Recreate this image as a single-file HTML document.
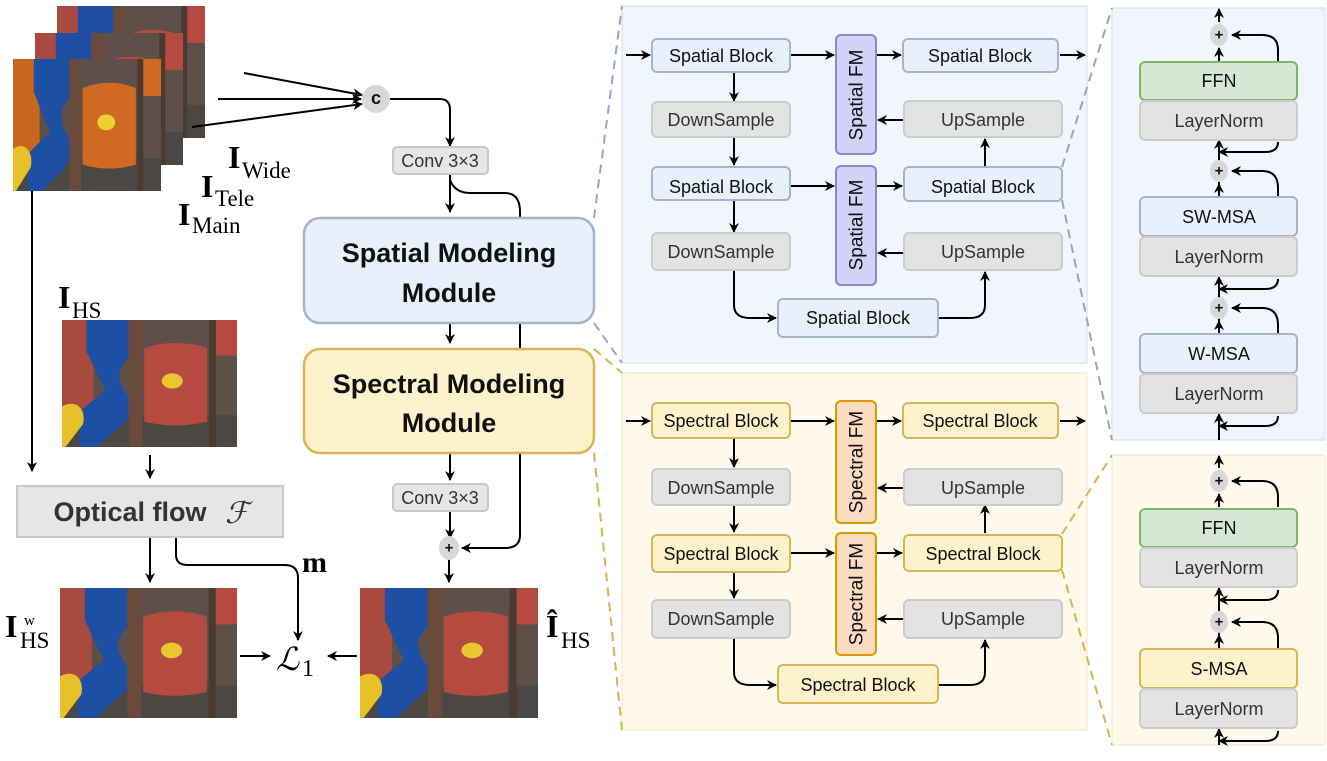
<!DOCTYPE html>
<html><head><meta charset="utf-8"><style>
html,body{margin:0;padding:0;background:#fff}
svg{display:block}
.b{font-family:"Liberation Sans",sans-serif;text-anchor:middle;dominant-baseline:central;fill:#111}
.g{fill:#333}
.m{font-family:"Liberation Serif",serif;fill:#000}
.ln{stroke:#000;stroke-width:2;fill:none}
</style></head><body>
<svg width="1327" height="761" viewBox="0 0 1327 761" xmlns="http://www.w3.org/2000/svg" font-size="18">
<defs>
<marker id="a" viewBox="0 0 10 10" refX="9" refY="5" markerWidth="5" markerHeight="5" orient="auto"><path d="M0,0L10,5L0,10L3,5z" fill="#000"/></marker>
<symbol id="pr" viewBox="0 0 100 100" preserveAspectRatio="none">
<rect width="100" height="100" fill="#5e5048"/>
<rect x="0" y="75" width="100" height="25" fill="#4a4744"/>
<rect x="0" y="0" width="18" height="75" fill="#a84a40"/>
<path d="M14,0H38V30C30,40 32,50 38,60V78L20,100H10V72L25,55C20,45 18,35 14,25z" fill="#1d4fa5"/>
<path d="M0,68C8,62 14,70 12,82L2,100H0z" fill="#e8c02a"/>
<rect x="38" y="0" width="8" height="100" fill="#6a4a3a"/>
<path d="M47,22Q65,14 83,22V80Q65,86 47,80z" fill="#b54a40"/>
<circle cx="63" cy="48" r="6" fill="#e8c830"/>
<rect x="86" y="0" width="14" height="28" fill="#b54a40"/>
<rect x="84" y="0" width="4" height="100" fill="#4a3a30"/>
</symbol>
<symbol id="po" viewBox="0 0 100 100" preserveAspectRatio="none">
<rect width="100" height="100" fill="#5e5048"/>
<rect x="0" y="75" width="100" height="25" fill="#4a4744"/>
<rect x="0" y="0" width="18" height="75" fill="#c8651e"/>
<path d="M14,0H38V30C30,40 32,50 38,60V78L20,100H10V72L25,55C20,45 18,35 14,25z" fill="#1d4fa5"/>
<path d="M0,68C8,62 14,70 12,82L2,100H0z" fill="#e8c02a"/>
<rect x="38" y="0" width="8" height="100" fill="#6a4a3a"/>
<path d="M47,22Q65,14 83,22V80Q65,86 47,80z" fill="#d06a22"/>
<circle cx="63" cy="48" r="6" fill="#f0d030"/>
<rect x="86" y="0" width="14" height="28" fill="#d06a22"/>
<rect x="84" y="0" width="4" height="100" fill="#4a3a30"/>
</symbol>
</defs>

<rect x="622" y="6" width="465" height="357" fill="#f1f5fd" stroke="#d5dbe6"/>
<rect x="622" y="373" width="465" height="357" fill="#fef9ea" stroke="#f3e6c0"/>
<rect x="1112" y="8" width="213" height="432" fill="#f1f5fd" stroke="#d5dbe6"/>
<rect x="1112" y="455" width="213" height="290" fill="#fef9ea" stroke="#f3e6c0"/>

<g stroke-width="2" stroke-dasharray="9,6" fill="none">
<path d="M594,218L622,6M594,323L622,363M1062,167L1112,8M1062,200L1112,440" stroke="#98a6b8"/>
<path d="M594,349L622,373M594,453L622,730M1062,534L1112,455M1062,570L1112,745" stroke="#d8b24e"/>
</g>

<use href="#pr" x="57" y="6" width="148" height="132"/>
<use href="#pr" x="35" y="33" width="148" height="132"/>
<use href="#po" x="13" y="59" width="148" height="132"/>
<use href="#pr" x="62" y="320" width="175" height="127"/>
<use href="#pr" x="60" y="588" width="177" height="130"/>
<use href="#pr" x="360" y="588" width="178" height="130"/>

<text class="m" x="228" y="168" style="font-size:32px;font-weight:bold">I</text><text class="m" x="242" y="178" style="font-size:23px">Wide</text>
<text class="m" x="201" y="197" style="font-size:32px;font-weight:bold">I</text><text class="m" x="215" y="206" style="font-size:23px">Tele</text>
<text class="m" x="178" y="225" style="font-size:32px;font-weight:bold">I</text><text class="m" x="192" y="233" style="font-size:23px">Main</text>
<text class="m" x="58" y="308" style="font-size:32px;font-weight:bold">I</text><text class="m" x="72" y="318" style="font-size:23px">HS</text>
<text class="m" x="5" y="637" style="font-size:32px;font-weight:bold">I</text><text class="m" x="20" y="648" style="font-size:23px">HS</text><text class="m" x="24" y="625" style="font-size:15px">w</text>
<text class="m" x="546" y="637" style="font-size:32px;font-weight:bold">Î</text><text class="m" x="561" y="648" style="font-size:23px">HS</text>
<text class="m" x="302" y="572" style="font-size:30px;font-weight:bold">m</text>
<text class="m" x="276" y="670" style="font-size:32px;font-style:italic">ℒ</text><text class="m" x="302" y="676" style="font-size:24px">1</text>

<g class="ln" marker-end="url(#a)">
<path d="M244,73L362,95"/><path d="M218,99L361,99"/><path d="M192,127L362,104"/>
<path d="M390,99H440Q450,99 450,110V146"/>
<path d="M450,174V212"/>
<path d="M32,191V471"/>
<path d="M150,455V478"/>
<path d="M450,323V343"/>
<path d="M450,453V480"/>
<path d="M450,511V538"/>
<path d="M520,453V535Q520,548 505,548H462"/>
<path d="M449,558V582"/>
<path d="M150,537V582"/>
<path d="M176,537V555Q176,565 188,565H285Q298,565 298,578V640"/>
<path d="M240,656H270"/>
<path d="M357,656H328"/>
</g>
<path class="ln" d="M450,180Q455,193 470,193H505Q520,193 520,212V218M520,323V349"/>

<circle cx="376" cy="99" r="14" fill="#d8d8d8"/>
<text x="376" y="98" class="b" style="font-weight:bold;font-size:18px">c</text>
<rect x="393" y="147" width="95" height="27" rx="4" fill="#e6e6e6" stroke="#c8c8c8" stroke-width="2"/>
<text x="440" y="161" class="b g" style="font-size:18px">Conv 3×3</text>
<rect x="393" y="484" width="95" height="27" rx="4" fill="#e6e6e6" stroke="#c8c8c8" stroke-width="2"/>
<text x="440" y="498" class="b g" style="font-size:18px">Conv 3×3</text>
<ellipse cx="449" cy="548" rx="10" ry="12" fill="#d8d8d8"/><text x="449" y="548" class="b" style="font-weight:bold;font-size:15px">+</text>

<rect x="304" y="218" width="290" height="105" rx="16" fill="#e8f0fb" stroke="#a5b4c8" stroke-width="2.5"/>
<text x="449" y="253" class="b" style="font-size:27px;font-weight:bold">Spatial Modeling</text>
<text x="449" y="293" class="b" style="font-size:27px;font-weight:bold">Module</text>
<rect x="304" y="349" width="290" height="104" rx="16" fill="#fdf2cc" stroke="#d6b656" stroke-width="2.5"/>
<text x="449" y="384" class="b" style="font-size:27px;font-weight:bold">Spectral Modeling</text>
<text x="449" y="423" class="b" style="font-size:27px;font-weight:bold">Module</text>

<rect x="17" y="486" width="266" height="51" fill="#e6e6e6" stroke="#c8c8c8" stroke-width="2"/>
<text x="130" y="512" class="b g" style="font-size:27px;font-weight:bold">Optical flow</text>
<text x="225" y="523" class="m" style="font-size:30px;font-style:italic;fill:#333">ℱ</text>

<g class="ln" marker-end="url(#a)">
<path d="M626,55H650"/><path d="M790,55H834"/><path d="M876,55H901"/><path d="M1060,55H1085"/>
<path d="M734,72V101"/><path d="M734,137V165"/>
<path d="M904,120H878"/><path d="M985,167V139"/>
<path d="M790,186H834"/><path d="M876,186H902"/>
<path d="M734,200V232"/><path d="M904,253H878"/>
<path d="M734,270V305Q734,318 750,318H776"/>
<path d="M938,318H970Q985,318 985,305V272"/>
</g>
<g stroke-width="2">
<rect x="652" y="39" width="138" height="33" rx="5" fill="#e8f0fb" stroke="#a5b4c8"/>
<rect x="903" y="39" width="155" height="33" rx="5" fill="#e8f0fb" stroke="#a5b4c8"/>
<rect x="652" y="102" width="138" height="35" rx="5" fill="#e3e3e3" stroke="#cccccc"/>
<rect x="904" y="101" width="158" height="36" rx="5" fill="#e3e3e3" stroke="#cccccc"/>
<rect x="652" y="167" width="138" height="33" rx="5" fill="#e8f0fb" stroke="#a5b4c8"/>
<rect x="904" y="167" width="158" height="34" rx="5" fill="#e8f0fb" stroke="#a5b4c8"/>
<rect x="652" y="233" width="138" height="37" rx="5" fill="#e3e3e3" stroke="#cccccc"/>
<rect x="904" y="233" width="158" height="37" rx="5" fill="#e3e3e3" stroke="#cccccc"/>
<rect x="778" y="299" width="160" height="38" rx="5" fill="#e8f0fb" stroke="#a5b4c8"/>
<rect x="836" y="35" width="40" height="119" rx="5" fill="#d2d1f8" stroke="#8a88c8"/>
<rect x="836" y="166" width="40" height="119" rx="5" fill="#d2d1f8" stroke="#8a88c8"/>
</g>
<text x="721" y="56" class="b">Spatial Block</text>
<text x="980" y="56" class="b">Spatial Block</text>
<text x="721" y="120" class="b g">DownSample</text>
<text x="983" y="120" class="b g">UpSample</text>
<text x="721" y="187" class="b">Spatial Block</text>
<text x="983" y="187" class="b">Spatial Block</text>
<text x="721" y="252" class="b g">DownSample</text>
<text x="983" y="252" class="b g">UpSample</text>
<text x="858" y="318" class="b">Spatial Block</text>
<text transform="translate(857,95) rotate(-90)" class="b" style="font-size:19px">Spatial FM</text>
<text transform="translate(857,225) rotate(-90)" class="b" style="font-size:19px">Spatial FM</text>

<g class="ln" marker-end="url(#a)">
<path d="M626,421H650"/><path d="M790,421H834"/><path d="M876,421H901"/><path d="M1060,421H1085"/>
<path d="M734,438V467"/><path d="M734,505V532"/>
<path d="M904,488H878"/><path d="M985,533V505"/>
<path d="M790,553H834"/><path d="M876,553H902"/>
<path d="M734,572V598"/><path d="M904,619H878"/>
<path d="M734,638V672Q734,685 750,685H776"/>
<path d="M938,685H970Q985,685 985,672V640"/>
</g>
<g stroke-width="2">
<rect x="652" y="403" width="138" height="35" rx="5" fill="#fdf2cc" stroke="#d6b656"/>
<rect x="903" y="403" width="155" height="35" rx="5" fill="#fdf2cc" stroke="#d6b656"/>
<rect x="652" y="469" width="138" height="36" rx="5" fill="#e3e3e3" stroke="#cccccc"/>
<rect x="904" y="469" width="158" height="36" rx="5" fill="#e3e3e3" stroke="#cccccc"/>
<rect x="652" y="535" width="138" height="37" rx="5" fill="#fdf2cc" stroke="#d6b656"/>
<rect x="904" y="535" width="158" height="36" rx="5" fill="#fdf2cc" stroke="#d6b656"/>
<rect x="652" y="600" width="138" height="38" rx="5" fill="#e3e3e3" stroke="#cccccc"/>
<rect x="904" y="600" width="158" height="38" rx="5" fill="#e3e3e3" stroke="#cccccc"/>
<rect x="778" y="665" width="160" height="38" rx="5" fill="#fdf2cc" stroke="#d6b656"/>
<rect x="836" y="401" width="40" height="122" rx="5" fill="#fbdcc0" stroke="#d79b00"/>
<rect x="836" y="533" width="40" height="122" rx="5" fill="#fbdcc0" stroke="#d79b00"/>
</g>
<text x="721" y="421" class="b">Spectral Block</text>
<text x="980" y="421" class="b">Spectral Block</text>
<text x="721" y="488" class="b g">DownSample</text>
<text x="983" y="488" class="b g">UpSample</text>
<text x="721" y="554" class="b">Spectral Block</text>
<text x="983" y="554" class="b">Spectral Block</text>
<text x="721" y="619" class="b g">DownSample</text>
<text x="983" y="619" class="b g">UpSample</text>
<text x="858" y="685" class="b">Spectral Block</text>
<text transform="translate(857,462) rotate(-90)" class="b" style="font-size:19px">Spectral FM</text>
<text transform="translate(857,594) rotate(-90)" class="b" style="font-size:19px">Spectral FM</text>

<g class="ln" marker-end="url(#a)">
<path d="M1219,22V9"/><path d="M1219,61V48"/><path d="M1278,61V50Q1278,35 1262,35H1232"/>
<path d="M1219,184V140"/><path d="M1278,142Q1278,152 1265,152H1219"/>
<path d="M1219,196V184"/><path d="M1278,196V188Q1278,171 1262,171H1232"/>
<path d="M1219,321V277"/><path d="M1278,279Q1278,289 1265,289H1219"/>
<path d="M1219,333V321"/><path d="M1278,333V325Q1278,308 1262,308H1232"/>
<path d="M1219,440V414"/><path d="M1278,416Q1278,426 1265,426H1219"/>
<path d="M1219,468V456"/><path d="M1219,507V494"/><path d="M1278,507V497Q1278,481 1262,481H1232"/>
<path d="M1219,635V588"/><path d="M1278,590Q1278,600 1265,600H1219"/>
<path d="M1219,648V635"/><path d="M1278,648V638Q1278,622 1262,622H1232"/>
<path d="M1219,745V729"/><path d="M1278,731Q1278,741 1265,741H1219"/>
</g>
<g stroke-width="2">
<rect x="1140" y="62" width="157" height="38" rx="5" fill="#d5e8d4" stroke="#82b366"/>
<rect x="1140" y="101" width="157" height="39" rx="5" fill="#e3e3e3" stroke="#cccccc"/>
<rect x="1140" y="197" width="157" height="39" rx="5" fill="#e8f0fb" stroke="#a5b4c8"/>
<rect x="1140" y="237" width="157" height="39" rx="5" fill="#e3e3e3" stroke="#cccccc"/>
<rect x="1140" y="334" width="157" height="39" rx="5" fill="#e8f0fb" stroke="#a5b4c8"/>
<rect x="1140" y="374" width="157" height="39" rx="5" fill="#e3e3e3" stroke="#cccccc"/>
<rect x="1140" y="509" width="157" height="38" rx="5" fill="#d5e8d4" stroke="#82b366"/>
<rect x="1140" y="548" width="157" height="39" rx="5" fill="#e3e3e3" stroke="#cccccc"/>
<rect x="1140" y="649" width="157" height="39" rx="5" fill="#fdf2cc" stroke="#d6b656"/>
<rect x="1140" y="689" width="157" height="39" rx="5" fill="#e3e3e3" stroke="#cccccc"/>
</g>
<g fill="#d8d8d8">
<ellipse cx="1219" cy="35" rx="9" ry="11"/><ellipse cx="1219" cy="171" rx="9" ry="11"/>
<ellipse cx="1219" cy="308" rx="9" ry="11"/><ellipse cx="1219" cy="481" rx="9" ry="11"/>
<ellipse cx="1219" cy="622" rx="9" ry="11"/>
</g>
<g>
<text x="1219" y="35" class="b" style="font-weight:bold;font-size:15px">+</text>
<text x="1219" y="171" class="b" style="font-weight:bold;font-size:15px">+</text>
<text x="1219" y="308" class="b" style="font-weight:bold;font-size:15px">+</text>
<text x="1219" y="481" class="b" style="font-weight:bold;font-size:15px">+</text>
<text x="1219" y="622" class="b" style="font-weight:bold;font-size:15px">+</text>
</g>
<text x="1219" y="81" class="b">FFN</text>
<text x="1219" y="121" class="b g">LayerNorm</text>
<text x="1219" y="217" class="b">SW-MSA</text>
<text x="1219" y="257" class="b g">LayerNorm</text>
<text x="1219" y="354" class="b">W-MSA</text>
<text x="1219" y="394" class="b g">LayerNorm</text>
<text x="1219" y="528" class="b">FFN</text>
<text x="1219" y="568" class="b g">LayerNorm</text>
<text x="1219" y="669" class="b">S-MSA</text>
<text x="1219" y="709" class="b g">LayerNorm</text>
</svg>
</body></html>
